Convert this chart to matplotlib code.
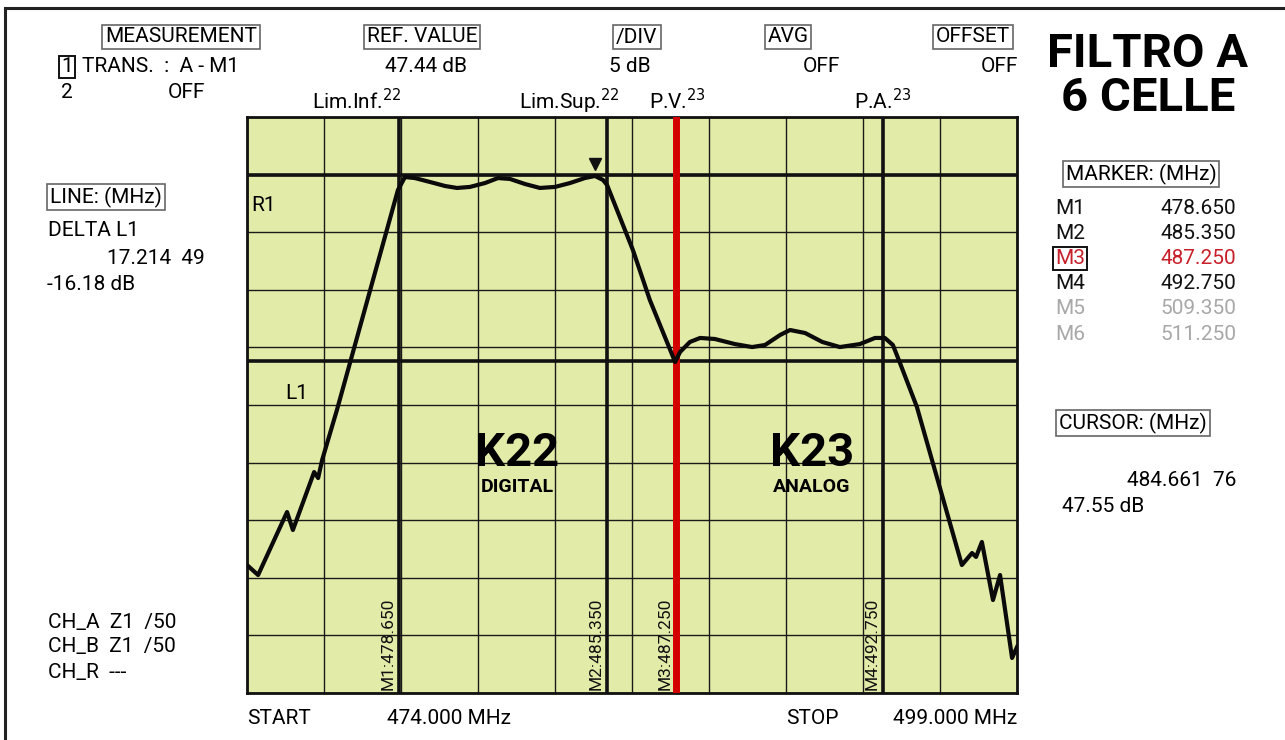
import numpy as np
import matplotlib
matplotlib.use('Agg')
import matplotlib.pyplot as plt
from matplotlib.lines import Line2D

plt.rcParams['font.family'] = ['Roboto', 'DejaVu Sans']

# sweep settings
f_start = 474.0
f_stop = 499.0
ref_db = 47.44
div_db = 5.0
delta_l1 = -16.18

# trace (MHz, dB)
trace_f = [474.00, 474.36, 475.30, 475.49, 476.18, 476.31, 476.44, 476.92, 478.90,
           479.13, 479.45, 479.94, 480.43, 480.82, 481.24, 481.73, 482.15, 482.54,
           483.03, 483.51, 484.00, 484.49, 484.97, 485.30, 485.56, 485.69, 486.53,
           487.08, 487.90, 488.06, 488.38, 488.71, 489.19, 489.84, 490.40, 490.82,
           491.31, 491.63, 492.12, 492.68, 493.25, 493.90, 494.39, 494.71, 494.97,
           495.20, 495.75, 497.21, 497.54, 497.67, 497.86, 498.22, 498.45, 498.84,
           499.00]
trace_db = [13.55, 12.68, 18.15, 16.59, 21.62, 21.10, 22.67, 27.01, 46.10,
            47.23, 47.14, 46.80, 46.45, 46.28, 46.37, 46.71, 47.14, 47.06,
            46.62, 46.28, 46.37, 46.71, 47.14, 47.32, 46.97, 46.54, 40.89,
            36.55, 31.17, 32.04, 32.91, 33.26, 33.17, 32.73, 32.47, 32.65,
            33.52, 33.95, 33.69, 32.91, 32.47, 32.73, 33.26, 33.26, 32.65,
            31.09, 27.27, 13.55, 14.59, 14.25, 15.55, 10.51, 12.68, 5.48,
            6.43]

marker_names = ['M1', 'M2', 'M3', 'M4', 'M5', 'M6']
marker_vals = ['478.650', '485.350', '487.250', '492.750', '509.350', '511.250']
marker_pos = [478.94, 485.69, 487.93, 494.65]   # where the lines sit on screen

W, H = 1285, 740


def P(x, y):
    return x / W, 1 - y / H


fig = plt.figure(figsize=(W / 100, H / 100), dpi=100)
fig.patch.set_facecolor('white')

# outer frame (top and left only)
fig.add_artist(Line2D([5 / W, 1], [1 - 8 / H, 1 - 8 / H], color='#222222', lw=2.2))
fig.add_artist(Line2D([5 / W, 5 / W], [0, 1 - 8 / H], color='#222222', lw=2.2))

ax = fig.add_axes([247 / W, 1 - 693 / H, 770 / W, 576 / H])
ax.set_facecolor('#e3eba9')
top_db = ref_db + div_db
bot_db = top_db - 10 * div_db
ax.set_xlim(f_start, f_stop)
ax.set_ylim(bot_db, top_db)
ax.set_xticks(np.linspace(f_start, f_stop, 11))
ax.set_yticks(np.linspace(bot_db, top_db, 11))
ax.tick_params(length=0, labelbottom=False, labelleft=False)
ax.grid(True, color='#1a1a1a', lw=1.0)
for s in ax.spines.values():
    s.set_linewidth(2)
    s.set_color('#111111')

# reference lines
ax.axhline(ref_db, color='#111111', lw=2.6)
ax.axhline(ref_db + delta_l1, color='#111111', lw=2.6)
for i, xm in enumerate(marker_pos):
    if i == 2:
        ax.axvline(xm, color='#d40000', lw=5, zorder=3)
    else:
        ax.axvline(xm, color='#111111', lw=2.6, zorder=3)
    ax.text(xm - 0.12, bot_db + 0.3, marker_names[i] + ':' + marker_vals[i],
            rotation=90, ha='right', va='bottom', fontsize=12.5, color='#111111')

ax.plot(trace_f, trace_db, color='#0a0a0a', lw=3, zorder=4, solid_joinstyle='round')
ax.plot([485.30], [48.4], marker='v', color='#111111', ms=9, zorder=5, clip_on=False)

ax.text(474.15, 44.8, 'R1', fontsize=15, va='center')
ax.text(475.25, 28.4, 'L1', fontsize=15, va='center')
ax.text(482.77, 23.3, 'K22', fontsize=34, fontweight='bold', ha='center', va='center')
ax.text(482.77, 20.3, 'DIGITAL', fontsize=14, fontweight='bold', ha='center', va='center')
ax.text(492.34, 23.3, 'K23', fontsize=34, fontweight='bold', ha='center', va='center')
ax.text(492.34, 20.3, 'ANALOG', fontsize=14, fontweight='bold', ha='center', va='center')

box = dict(boxstyle='square,pad=0.14', fc='white', ec='#666666', lw=1.2)
fs = 15

# header
fig.text(*P(181, 37), 'MEASUREMENT', fontsize=fs, ha='center', va='center', bbox=box)
fig.text(*P(422, 37), 'REF. VALUE', fontsize=fs, ha='center', va='center', bbox=box)
fig.text(*P(637, 37), '/DIV', fontsize=fs, ha='center', va='center', bbox=box)
fig.text(*P(788, 37), 'AVG', fontsize=fs, ha='center', va='center', bbox=box)
fig.text(*P(973, 37), 'OFFSET', fontsize=fs, ha='center', va='center', bbox=box)
fig.text(*P(67, 67), '1', fontsize=fs, ha='center', va='center',
         bbox=dict(boxstyle='square,pad=0.08', fc='white', ec='#111111', lw=1.4))
fig.text(*P(82, 67), 'TRANS.  :  A - M1', fontsize=fs, ha='left', va='center')
fig.text(*P(67, 93), '2', fontsize=fs, ha='center', va='center')
fig.text(*P(186, 93), 'OFF', fontsize=fs, ha='center', va='center')
fig.text(*P(467, 67), '47.44 dB', fontsize=fs, ha='right', va='center')
fig.text(*P(651, 67), '5 dB', fontsize=fs, ha='right', va='center')
fig.text(*P(840, 67), 'OFF', fontsize=fs, ha='right', va='center')
fig.text(*P(1018, 67), 'OFF', fontsize=fs, ha='right', va='center')
fig.text(*P(357, 101), 'Lim.Inf.$^{22}$', fontsize=fs, ha='center', va='center')
fig.text(*P(569, 101), 'Lim.Sup.$^{22}$', fontsize=fs, ha='center', va='center')
fig.text(*P(677, 101), 'P.V.$^{23}$', fontsize=fs, ha='center', va='center')
fig.text(*P(883, 101), 'P.A.$^{23}$', fontsize=fs, ha='center', va='center')

fig.text(*P(1148, 54), 'FILTRO A', fontsize=34, fontweight='bold',
         ha='center', va='center')
fig.text(*P(1148, 98), '6 CELLE', fontsize=34, fontweight='bold',
         ha='center', va='center')

# marker table
fig.text(*P(1141, 174), 'MARKER: (MHz)', fontsize=fs, ha='center', va='center', bbox=box)
row_cols = ['#111111', '#111111', '#c8202a', '#111111', '#a8a8a8', '#a8a8a8']
for i in range(6):
    y = 208 + i * 25.2
    kw = {}
    if i == 2:
        kw['bbox'] = dict(boxstyle='square,pad=0.1', fc='white', ec='#111111', lw=1.4)
    fig.text(*P(1055, y), marker_names[i], fontsize=fs, color=row_cols[i],
             ha='left', va='center', **kw)
    fig.text(*P(1236, y), marker_vals[i], fontsize=fs, color=row_cols[i],
             ha='right', va='center')

fig.text(*P(1133, 423), 'CURSOR: (MHz)', fontsize=fs, ha='center', va='center', bbox=box)
fig.text(*P(1236, 480), '484.661  76', fontsize=fs, ha='right', va='center')
fig.text(*P(1062, 507), '47.55 dB', fontsize=fs, ha='left', va='center')

# left column
fig.text(*P(106, 197), 'LINE: (MHz)', fontsize=fs, ha='center', va='center', bbox=box)
fig.text(*P(48, 231), 'DELTA L1', fontsize=fs, ha='left', va='center')
fig.text(*P(205, 258), '17.214  49', fontsize=fs, ha='right', va='center')
fig.text(*P(47, 284), '-16.18 dB', fontsize=fs, ha='left', va='center')
fig.text(*P(48, 622), 'CH_A  Z1  /50', fontsize=fs, ha='left', va='center')
fig.text(*P(48, 647), 'CH_B  Z1  /50', fontsize=fs, ha='left', va='center')
fig.text(*P(48, 672), 'CH_R  ---', fontsize=fs, ha='left', va='center')

# footer
fig.text(*P(247, 718), 'START', fontsize=fs, ha='left', va='center')
fig.text(*P(387, 718), '%.3f MHz' % f_start, fontsize=fs, ha='left', va='center')
fig.text(*P(786, 718), 'STOP', fontsize=fs, ha='left', va='center')
fig.text(*P(1017, 718), '%.3f MHz' % f_stop, fontsize=fs, ha='right', va='center')

fig.savefig('out.png', dpi=100, facecolor='white')
